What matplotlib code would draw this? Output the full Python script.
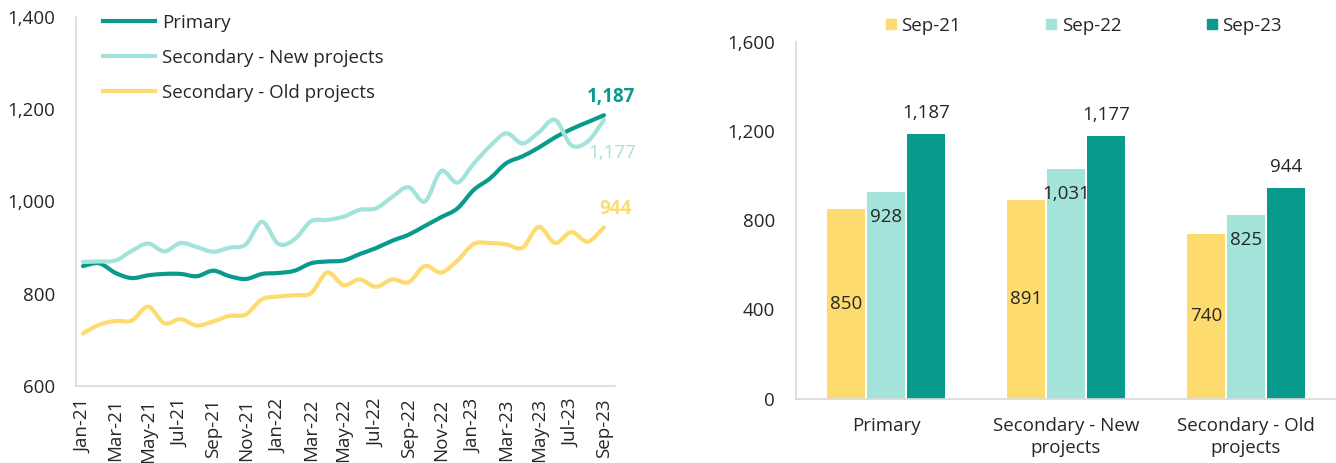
import numpy as np
import matplotlib
matplotlib.use('Agg')
import matplotlib.pyplot as plt
from matplotlib.lines import Line2D
from matplotlib.path import Path
from matplotlib.patches import PathPatch
from matplotlib.ticker import FuncFormatter, MultipleLocator

plt.rcParams['font.family'] = ['Open Sans', 'DejaVu Sans']

# monthly prices, Jan-21 .. Sep-23
months = ['Jan-21', 'Feb-21', 'Mar-21', 'Apr-21', 'May-21', 'Jun-21', 'Jul-21', 'Aug-21',
          'Sep-21', 'Oct-21', 'Nov-21', 'Dec-21', 'Jan-22', 'Feb-22', 'Mar-22', 'Apr-22',
          'May-22', 'Jun-22', 'Jul-22', 'Aug-22', 'Sep-22', 'Oct-22', 'Nov-22', 'Dec-22',
          'Jan-23', 'Feb-23', 'Mar-23', 'Apr-23', 'May-23', 'Jun-23', 'Jul-23', 'Aug-23',
          'Sep-23']
primary = [860, 866, 845, 834, 840, 843, 843, 838, 850, 838, 832, 843, 845, 850, 866, 870,
           872, 886, 899, 915, 928, 947, 966, 985, 1025, 1050, 1083, 1098, 1117, 1139, 1157,
           1172, 1187]
sec_new = [869, 870, 872, 893, 909, 892, 910, 901, 891, 900, 907, 956, 908, 918, 957, 960,
           967, 982, 985, 1010, 1031, 1000, 1066, 1041, 1082, 1120, 1148, 1126, 1150, 1177,
           1122, 1130, 1177]
sec_old = [714, 733, 741, 742, 772, 736, 745, 731, 740, 752, 755, 788, 794, 797, 801, 846,
           819, 831, 815, 831, 825, 860, 846, 872, 908, 910, 907, 900, 945, 910, 934, 913,
           944]

# snapshot bars
bar_categories = ['Primary', 'Secondary - New\nprojects', 'Secondary - Old\nprojects']
bar_series = ['Sep-21', 'Sep-22', 'Sep-23']
sep21 = [850, 891, 740]
sep22 = [928, 1031, 825]
sep23 = [1187, 1177, 944]

DARK = '#089b8d'
LIGHT = '#a4e3d9'
YELLOW = '#fedb6f'
TEXT = '#262626'
SPINE = '#d9d9d9'
FS = 13.5


def smooth_path(x, y):
    # excel style smoothed line: cubic bezier through every point
    pts = np.column_stack([x, y]).astype(float)
    n = len(pts)
    verts = [pts[0]]
    codes = [Path.MOVETO]
    for i in range(n - 1):
        p0 = pts[i - 1] if i > 0 else pts[i]
        p1 = pts[i]
        p2 = pts[i + 1]
        p3 = pts[i + 2] if i + 2 < n else pts[i + 1]
        verts += [p1 + (p2 - p0) / 6, p2 - (p3 - p1) / 6, p2]
        codes += [Path.CURVE4] * 3
    return Path(verts, codes)


def thousands(v, pos):
    return '{:,.0f}'.format(v)


def style_axes(ax):
    for side in ['top', 'right']:
        ax.spines[side].set_visible(False)
    for side in ['left', 'bottom']:
        ax.spines[side].set_color(SPINE)
        ax.spines[side].set_linewidth(1.2)
    ax.tick_params(length=0, labelsize=FS, colors=TEXT)


fig = plt.figure(figsize=(13.36, 4.63), dpi=100)

## line chart
ax = fig.add_axes([76 / 1336, 77 / 463, 539 / 1336, 369 / 463])
style_axes(ax)
x = np.arange(len(months))
series = [('Primary', primary, DARK),
          ('Secondary - New projects', sec_new, LIGHT),
          ('Secondary - Old projects', sec_old, YELLOW)]
handles = []
for label, values, color in series:
    patch = PathPatch(smooth_path(x, values), fill=False, edgecolor=color, lw=3.0,
                      capstyle='round', joinstyle='round')
    ax.add_patch(patch)
    handles.append(Line2D([], [], color=color, lw=3.0, label=label))

ax.set_xlim(-0.43, 32.68)
ax.set_ylim(600, 1400)
ax.yaxis.set_major_locator(MultipleLocator(200))
ax.yaxis.set_major_formatter(FuncFormatter(thousands))
ax.set_xticks(x[::2])
ax.set_xticklabels(months[::2], rotation=90, ha='center', va='top')
ax.tick_params(axis='y', pad=15)
ax.tick_params(axis='x', pad=9)

ax.legend(handles=handles, loc='upper left', bbox_to_anchor=(0.05, 1.008), frameon=False,
          fontsize=FS, handlelength=2.8, handletextpad=0.37, labelspacing=0.9,
          borderpad=0, borderaxespad=0, labelcolor=TEXT)

# end-of-series labels
ax.annotate('{:,}'.format(primary[-1]), (x[-1], primary[-1]), xytext=(5, 13),
            textcoords='offset points', ha='center', va='center', fontsize=FS,
            fontweight='bold', color=DARK, annotation_clip=False)
ax.annotate('{:,}'.format(sec_new[-1]), (x[-1], sec_new[-1]), xytext=(6, -24),
            textcoords='offset points', ha='center', va='center', fontsize=FS,
            color=LIGHT, annotation_clip=False)
ax.annotate('{:,}'.format(sec_old[-1]), (x[-1], sec_old[-1]), xytext=(8, 13),
            textcoords='offset points', ha='center', va='center', fontsize=FS,
            fontweight='bold', color=YELLOW, annotation_clip=False)

## bar chart
bx = fig.add_axes([796 / 1336, 64.5 / 463, 540 / 1336, 356.5 / 463])
style_axes(bx)
pos = np.arange(len(bar_categories))
width = 0.208
step = 0.222
bar_sets = [(sep21, YELLOW), (sep22, LIGHT), (sep23, DARK)]
bar_handles = []
for i, (values, color) in enumerate(bar_sets):
    bars = bx.bar(pos + (i - 1) * step, values, width=width, color=color)
    bar_handles.append(Line2D([], [], marker='s', color=color, ls='none', markersize=6.5,
                              label=bar_series[i]))
    for rect, v in zip(bars, values):
        cx = rect.get_x() + rect.get_width() / 2
        if i == 0:
            bx.annotate('{:,}'.format(v), (cx, v / 2), ha='center', va='center',
                        fontsize=FS, color=TEXT)
        elif i == 1:
            bx.annotate('{:,}'.format(v), (cx, v), xytext=(0, -18.5), textcoords='offset points',
                        ha='center', va='center', fontsize=FS, color=TEXT)
        else:
            bx.annotate('{:,}'.format(v), (cx, v), xytext=(0, 15), textcoords='offset points',
                        ha='center', va='center', fontsize=FS, color=TEXT)

bx.set_xlim(-0.5, 2.5)
bx.set_ylim(0, 1600)
bx.yaxis.set_major_locator(MultipleLocator(400))
bx.yaxis.set_major_formatter(FuncFormatter(thousands))
bx.set_xticks(pos)
bx.set_xticklabels(bar_categories, linespacing=1.35)
bx.tick_params(axis='y', pad=15)
bx.tick_params(axis='x', pad=13)

fig.legend(handles=bar_handles, loc='upper left', bbox_to_anchor=(885 / 1336, 1 - 17 / 463),
           ncol=3, frameon=False, fontsize=FS, handlelength=0.6, handletextpad=0.28,
           columnspacing=4.5, borderpad=0, borderaxespad=0, labelcolor=TEXT)

fig.savefig('out.png', dpi=100)
